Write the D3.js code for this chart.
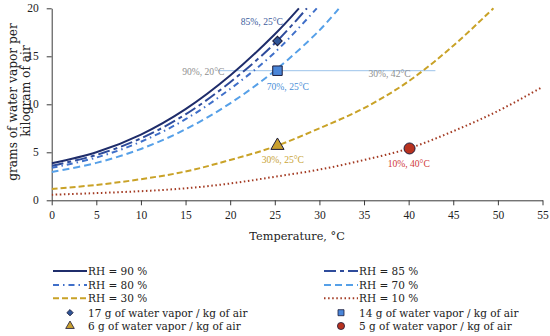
<!DOCTYPE html>
<html>
<head>
<meta charset="utf-8">
<script src="https://cdn.jsdelivr.net/npm/d3@7/dist/d3.min.js"></script>
<style>
    body { margin: 0; background: #fff; }
</style>
</head>
<body>
<div id="chart"></div>
<script>
    // curve readings: [temperature, g water vapor per kg air]
    var rh90 = [[0,3.85],[5,5.0],[10,6.85],[15,9.5],[20,13.0],[25,17.3],[27.7,20]];
    var rh85 = [[0,3.6],[5,4.72],[10,6.45],[15,8.95],[20,12.3],[25,16.35],[28.6,20]];
    var rh80 = [[0,3.38],[5,4.45],[10,6.1],[15,8.45],[20,11.6],[25,15.4],[29.7,20]];
    var rh70 = [[0,2.95],[5,3.9],[10,5.35],[15,7.4],[20,10.1],[25,13.5],[30,17.7],[32.2,20]];
    var rh30 = [[0,1.18],[5,1.6],[10,2.2],[15,3.0],[20,4.2],[25,5.6],[30,7.5],[35,9.6],[40,12.4],[45,16.1],[49.5,20]];
    var rh10 = [[0,0.58],[5,0.75],[10,0.95],[15,1.25],[20,1.75],[25,2.45],[30,3.2],[35,4.2],[40,5.4],[45,7.2],[50,9.3],[55,11.8]];

    var pointNames = ["17 g of water vapor / kg of air", "14 g of water vapor / kg of air",
                      "6 g of water vapor / kg of air", "5 g of water vapor / kg of air"];
    var pointT = [25.3, 25.3, 25.3, 40.1];
    var pointV = [16.6, 13.5, 5.7, 5.4];

    var xTicks = [0, 5, 10, 15, 20, 25, 30, 35, 40, 45, 50, 55];
    var yTicks = [0, 5, 10, 15, 20];

    // guide line at 14 g level
    var guideT = [18.6, 43];
    var guideV = 13.5;

    var notes = [
        {text: "85%, 25°C", t: 25, v: 16.6, dx: -34, dy: -16, color: "#3d5c9c"},
        {text: "90%, 20°C", t: 20, v: 13.5, dx: -48, dy: 4, color: "#8f8f8f"},
        {text: "30%, 42°C", t: 42, v: 13.5, dx: -58, dy: 6, color: "#8f8f8f"},
        {text: "70%, 25°C", t: 25, v: 13.5, dx: -8, dy: 19, color: "#4a8fd8"},
        {text: "30%, 25°C", t: 25, v: 5.7, dx: -13, dy: 17, color: "#c9a437"},
        {text: "10%, 40°C", t: 40, v: 5.4, dx: -21, dy: 19, color: "#d03a3a"}
    ];

    var series = [
        {name: "RH = 90 %", data: rh90, color: "#1f2d6b", dash: null, w: 2},
        {name: "RH = 85 %", data: rh85, color: "#2e4b9b", dash: "12,4,4,4", w: 2},
        {name: "RH = 80 %", data: rh80, color: "#3f6fc9", dash: "6,4,1.5,4", w: 2},
        {name: "RH = 70 %", data: rh70, color: "#56a0e8", dash: "7,4", w: 2},
        {name: "RH = 30 %", data: rh30, color: "#c9a227", dash: "6,3", w: 2},
        {name: "RH = 10 %", data: rh10, color: "#a33a22", dash: "1.5,2.6", w: 2}
    ];

    var serif = "'Liberation Serif', serif";
    var wide = "'DejaVu Serif', serif";

    var margin = {top: 8.3, right: 7.5, bottom: 135.7, left: 51.7},
        width = 550 - margin.left - margin.right,
        height = 336 - margin.top - margin.bottom;

    var svg = d3.select("#chart").append("svg")
        .attr("width", 550)
        .attr("height", 336);

    var g = svg.append("g")
        .attr("transform", "translate(" + margin.left + "," + margin.top + ")");

    var x = d3.scaleLinear().domain([0, 55]).range([0, width]);
    var y = d3.scaleLinear().domain([0, 20]).range([height, 0]);

    g.append("clipPath").attr("id", "clip")
        .append("rect").attr("x", 0).attr("y", -1).attr("width", width + 2).attr("height", height + 1);

    // axes
    var xAxis = d3.axisBottom(x).tickValues(xTicks).tickSize(5).tickSizeOuter(0).tickPadding(6);
    var yAxis = d3.axisLeft(y).tickValues(yTicks).tickSize(5).tickSizeOuter(0).tickPadding(8);

    var gx = g.append("g")
        .attr("transform", "translate(0," + height + ")")
        .call(xAxis);
    var gy = g.append("g").call(yAxis);

    [gx, gy].forEach(function(a) {
        a.attr("font-family", null).attr("font-size", null);
        a.selectAll("path, line").attr("stroke", "#3a3a3a");
        a.selectAll("text").style("font-size", "11.5px").attr("fill", "#222")
            .style("font-family", serif);
    });

    // guide line
    g.append("line")
        .attr("x1", x(guideT[0])).attr("x2", x(guideT[1]))
        .attr("y1", y(guideV)).attr("y2", y(guideV))
        .attr("stroke", "#9cc3ea").attr("stroke-width", 1);

    // curves
    var line = d3.line()
        .x(function(d) { return x(d[0]); })
        .y(function(d) { return y(d[1]); })
        .curve(d3.curveCatmullRom.alpha(0.5));

    var curves = g.append("g").attr("clip-path", "url(#clip)");
    series.slice().reverse().forEach(function(s) {
        curves.append("path")
            .datum(s.data)
            .attr("d", line)
            .attr("fill", "none")
            .attr("stroke", s.color)
            .attr("stroke-width", s.w)
            .attr("stroke-dasharray", s.dash);
    });

    // markers (diamond = square turned 45deg)
    var symbols = [d3.symbolSquare, d3.symbolSquare, d3.symbolTriangle, d3.symbolCircle];
    var symRot = [45, 0, 0, 0];
    var symSize = [45, 90, 75, 95];
    var symFill = ["#2f5597", "#4a86d9", "#c9a030", "#b8321f"];

    g.selectAll(".pt")
        .data(pointT).enter()
        .append("path")
        .attr("class", "pt")
        .attr("transform", function(d, i) {
            return "translate(" + x(d) + "," + y(pointV[i]) + ") rotate(" + symRot[i] + ")";
        })
        .attr("d", function(d, i) { return d3.symbol().type(symbols[i]).size(symSize[i])(); })
        .attr("fill", function(d, i) { return symFill[i]; })
        .attr("stroke", "#1b1b3a")
        .attr("stroke-width", 1);

    // point labels
    g.selectAll(".note")
        .data(notes).enter()
        .append("text")
        .attr("x", function(d) { return x(d.t) + d.dx; })
        .attr("y", function(d) { return y(d.v) + d.dy; })
        .style("font-size", "9.6px")
        .style("font-family", serif)
        .attr("fill", function(d) { return d.color; })
        .text(function(d) { return d.text; });

    // axis titles
    svg.append("text")
        .attr("x", margin.left + width / 2)
        .attr("y", 240)
        .attr("text-anchor", "middle")
        .style("font-family", wide)
        .style("font-size", "11.3px")
        .attr("fill", "#222")
        .text("Temperature, °C");

    svg.append("text")
        .attr("transform", "translate(16.5,102) rotate(-90)")
        .attr("text-anchor", "middle")
        .style("font-family", wide)
        .style("font-size", "12.2px")
        .attr("fill", "#222")
        .text("grams of water vapor per");
    svg.append("text")
        .attr("transform", "translate(29.5,91) rotate(-90)")
        .attr("text-anchor", "middle")
        .style("font-family", wide)
        .style("font-size", "12.2px")
        .attr("fill", "#222")
        .text("kilogram of air");

    // legend
    var rowY = [271, 285, 298.3, 312.7, 326];
    var colX = [53, 324];
    var legend = svg.append("g");

    series.forEach(function(s, i) {
        var cx = colX[i % 2], cy = rowY[Math.floor(i / 2)];
        legend.append("line")
            .attr("x1", cx).attr("x2", cx + 34)
            .attr("y1", cy).attr("y2", cy)
            .attr("stroke", s.color)
            .attr("stroke-width", s.w)
            .attr("stroke-dasharray", s.dash);
        legend.append("text")
            .attr("x", cx + 35).attr("y", cy + 4)
            .style("font-family", wide)
            .style("font-size", "10.5px")
            .attr("fill", "#222")
            .text(s.name);
    });

    var legSize = [20, 36, 32, 40];
    pointNames.forEach(function(name, i) {
        var cx = colX[i % 2], cy = rowY[3 + Math.floor(i / 2)];
        legend.append("path")
            .attr("transform", "translate(" + (cx + 17) + "," + cy + ") rotate(" + symRot[i] + ")")
            .attr("d", d3.symbol().type(symbols[i]).size(legSize[i])())
            .attr("fill", symFill[i])
            .attr("stroke", "#1b1b3a")
            .attr("stroke-width", 0.8);
        legend.append("text")
            .attr("x", cx + 35).attr("y", cy + 4)
            .style("font-family", wide)
            .style("font-size", "10.5px")
            .attr("fill", "#222")
            .text(name);
    });
</script>
</body>
</html>
